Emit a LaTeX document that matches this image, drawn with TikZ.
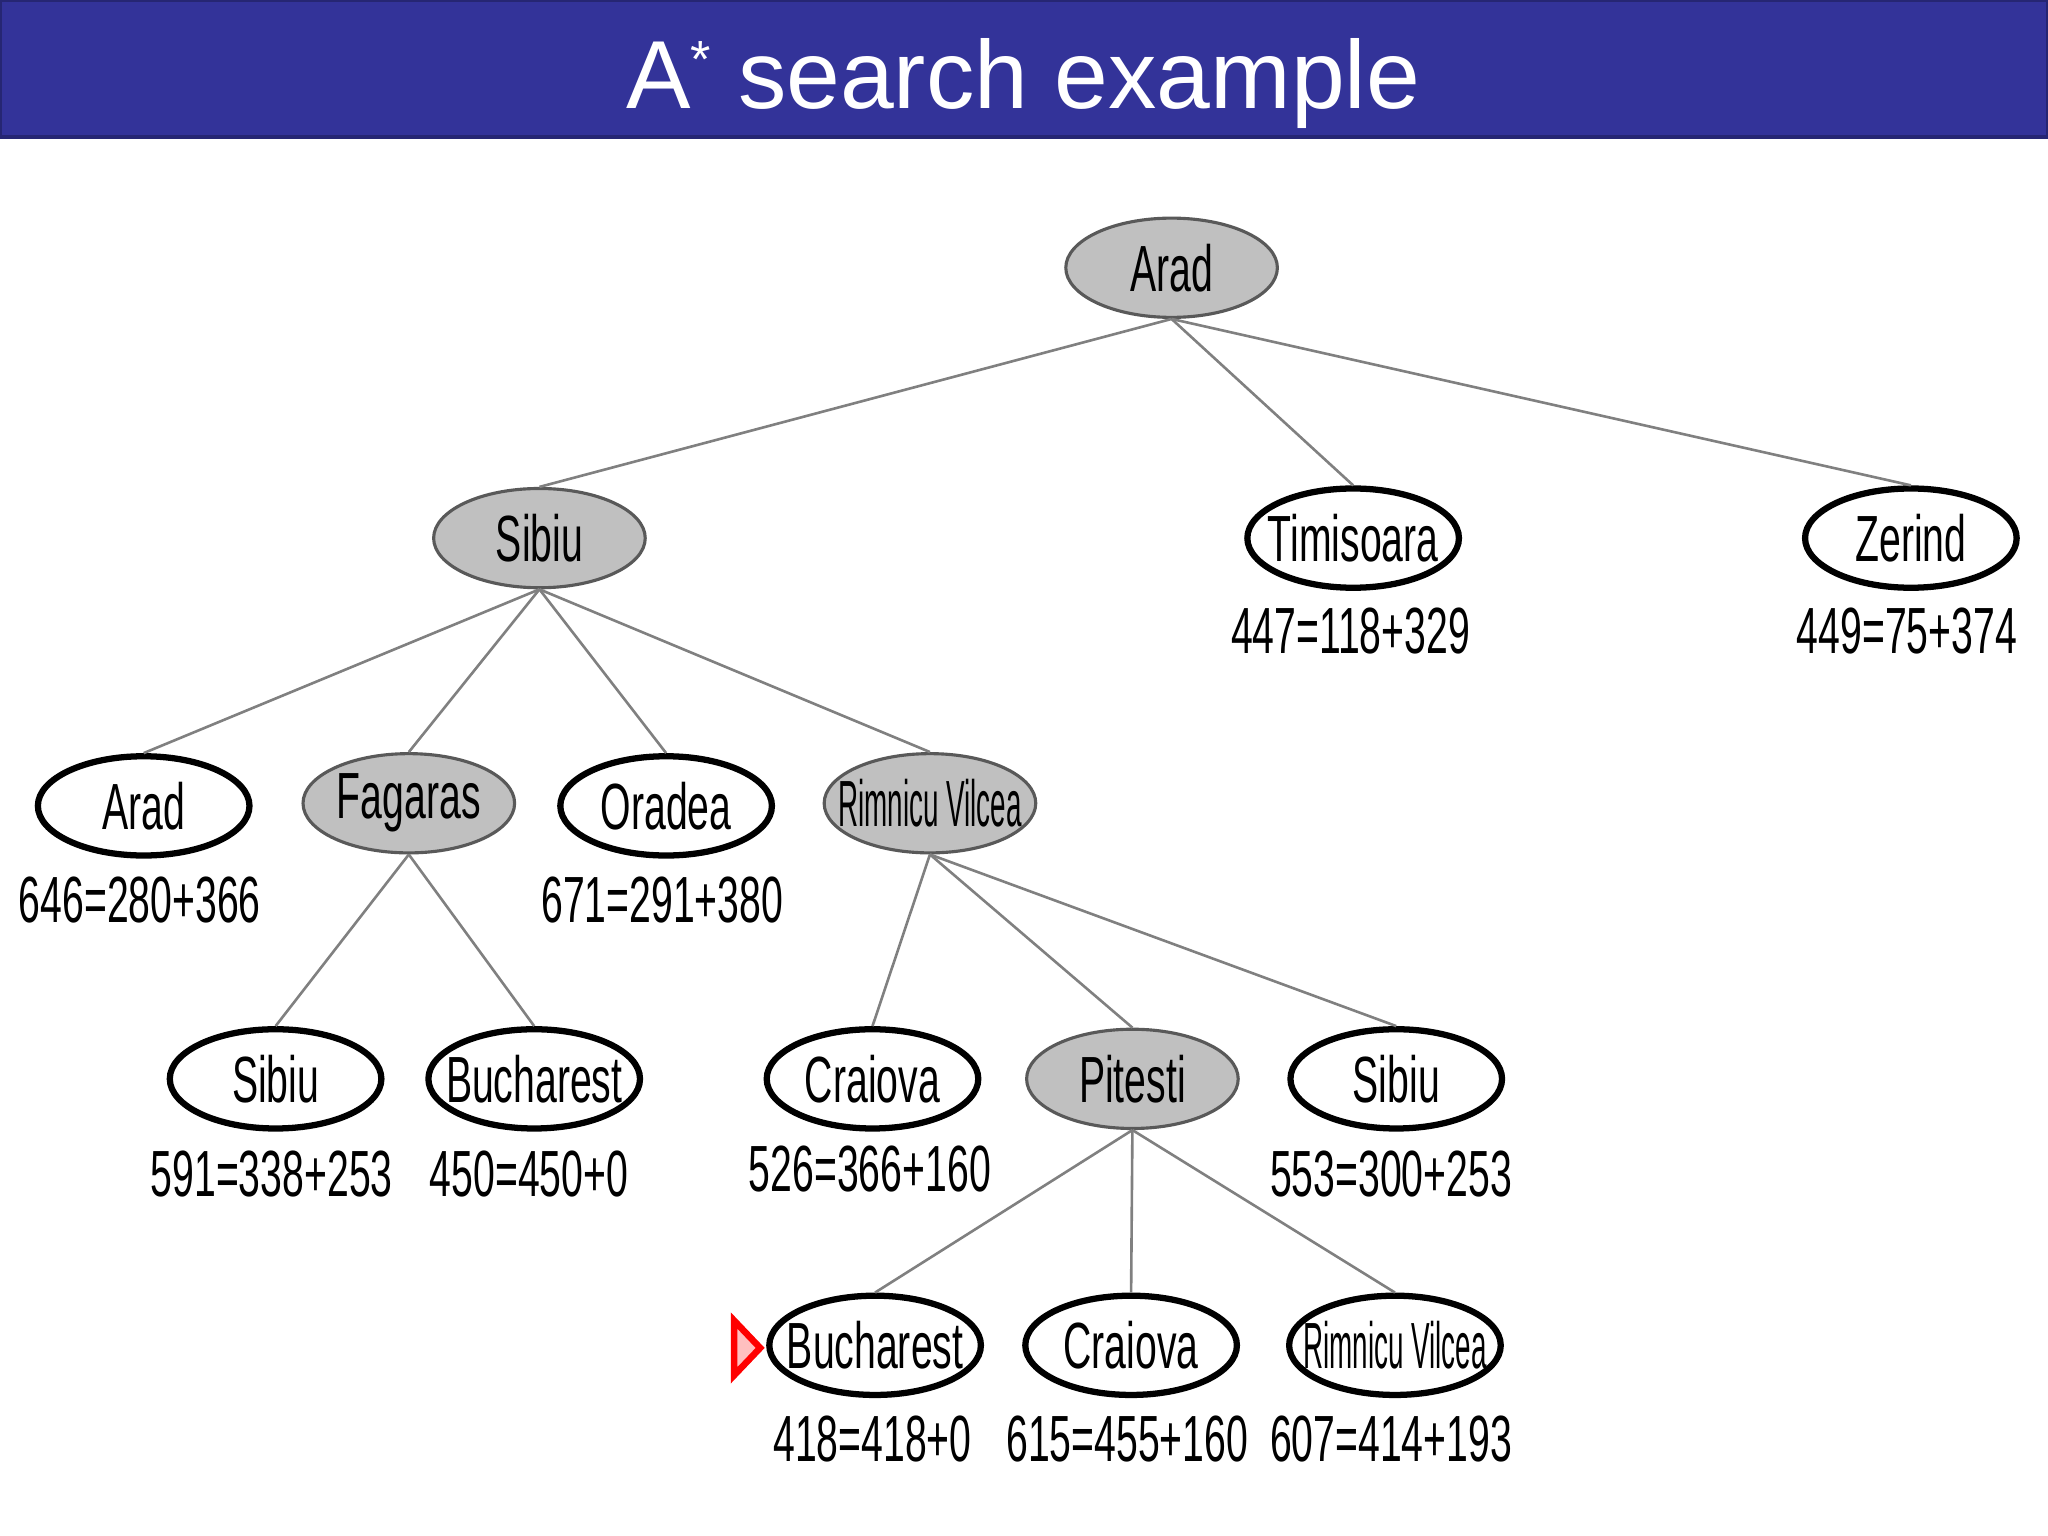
\documentclass[tikz,border=0pt]{standalone}
\usepackage{fontspec}
\setmainfont{Liberation Sans}
\newfontfamily\nodefont[FakeStretch=0.6]{Liberation Sans}
\usetikzlibrary{shapes.geometric}
\definecolor{titleblue}{HTML}{333399}
\definecolor{titleedge}{HTML}{262673}
\definecolor{expanded}{HTML}{C0C0C0}
\newcommand{\ntxt}[1]{\makebox[0pt]{#1}}
\begin{document}
\begin{tikzpicture}[x=0.5pt,y=-0.5pt,
  ell/.style={ellipse, minimum width=81pt, minimum height=38pt, inner sep=0pt,
    font=\nodefont\fontsize{25}{30}\selectfont},
  opennode/.style={ell, draw=black, line width=2.4pt, fill=white},
  closednode/.style={ell, draw=black!65, line width=1.2pt, fill=expanded},
  cost/.style={font=\nodefont\fontsize{25}{30}\selectfont, inner sep=0pt},
  edge/.style={draw=black!50, line width=1pt}
]
\useasboundingbox (0,0) rectangle (1568,1176);
% title bar
\fill[titleblue] (0,0) rectangle (1568,105);
\draw[titleedge, line width=1.5pt] (0,0) rectangle (1568,105);
\node[anchor=base, text=white, inner sep=0pt, font=\fontsize{37}{44}\selectfont] (title) at (783.5,83)
  {A\raisebox{12pt}{\fontsize{20}{20}\selectfont *} search example};

% level 1
\node[closednode] (arad) at (897,205) {\ntxt{Arad}};
% level 2
\node[closednode] (sibiu) at (413,412) {\ntxt{Sibiu}};
\node[opennode] (timisoara) at (1036,412) {\ntxt{Timisoara}};
\node[opennode] (zerind) at (1463,412) {\ntxt{Zerind}};
\node[cost] (ctim) at (1034,483) {447=118+329};
\node[cost] (czer) at (1460,483) {449=75+374};
% level 3
\node[opennode] (arad2) at (110,617) {\ntxt{Arad}};
\node[closednode] (fagaras) at (313,615) {\ntxt{Fagaras}};
\node[opennode] (oradea) at (510,617) {\ntxt{Oradea}};
\node[closednode] (rimnicu) at (712,615) {\ntxt{\scalebox{0.71}[1]{Rimnicu Vilcea}}};
\node[cost] (carad2) at (107,689) {646=280+366};
\node[cost] (corad) at (507,689) {671=291+380};
% level 4
\node[opennode] (sibiu2) at (211,826) {\ntxt{Sibiu}};
\node[opennode] (buch1) at (409,826) {\ntxt{Bucharest}};
\node[opennode] (craiova1) at (668,826) {\ntxt{Craiova}};
\node[closednode] (pitesti) at (867,826) {\ntxt{Pitesti}};
\node[opennode] (sibiu3) at (1069,826) {\ntxt{Sibiu}};
\node[cost] (csib2) at (208,899) {591=338+253};
\node[cost] (cbuch1) at (405,899) {450=450+0};
\node[cost] (ccra1) at (666,895) {526=366+160};
\node[cost] (csib3) at (1065,899) {553=300+253};
% level 5
\node[opennode] (buch2) at (670,1030) {\ntxt{Bucharest}};
\node[opennode] (craiova2) at (866,1030) {\ntxt{Craiova}};
\node[opennode] (rimnicu2) at (1068,1030) {\ntxt{\scalebox{0.71}[1]{Rimnicu Vilcea}}};
\node[cost] (cbuch2) at (668,1102) {418=418+0};
\node[cost] (ccra2) at (863,1102) {615=455+160};
\node[cost] (crim2) at (1065,1102) {607=414+193};

% edges
\draw[edge] (arad.south) -- (sibiu.north);
\draw[edge] (arad.south) -- (timisoara.north);
\draw[edge] (arad.south) -- (zerind.north);
\draw[edge] (sibiu.south) -- (arad2.north);
\draw[edge] (sibiu.south) -- (fagaras.north);
\draw[edge] (sibiu.south) -- (oradea.north);
\draw[edge] (sibiu.south) -- (rimnicu.north);
\draw[edge] (fagaras.south) -- (sibiu2.north);
\draw[edge] (fagaras.south) -- (buch1.north);
\draw[edge] (rimnicu.south) -- (craiova1.north);
\draw[edge] (rimnicu.south) -- (pitesti.north);
\draw[edge] (rimnicu.south) -- (sibiu3.north);
\draw[edge] (pitesti.south) -- (buch2.north);
\draw[edge] (pitesti.south) -- (craiova2.north);
\draw[edge] (pitesti.south) -- (rimnicu2.north);

% goal marker
\draw[red, line width=2.5pt, fill=red!25, line join=miter] (562,1011) -- (582,1032) -- (562,1053) -- cycle;
\end{tikzpicture}
\end{document}
